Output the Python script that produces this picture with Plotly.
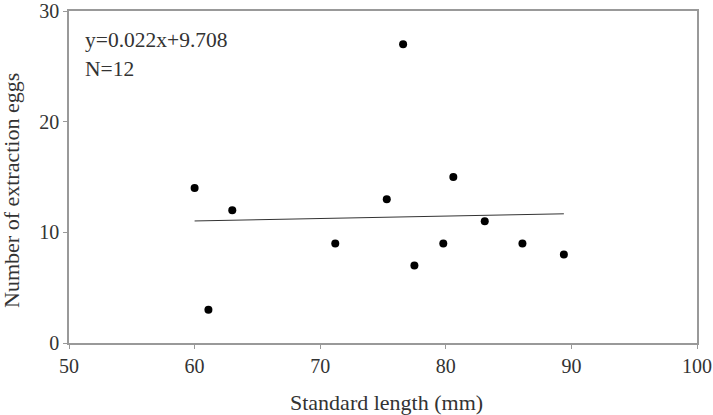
import plotly.graph_objects as go

length = [60.0, 61.1, 63.0, 71.2, 75.3, 76.6, 77.5, 79.8, 80.6, 83.1, 86.1, 89.4]
eggs = [14, 3, 12, 9, 13, 27, 7, 9, 15, 11, 9, 8]
slope = 0.022
intercept = 9.708
x_ticks = [50, 60, 70, 80, 90, 100]
y_ticks = [0, 10, 20, 30]

fit_x = [min(length), max(length)]
fit_y = [slope * v + intercept for v in fit_x]

font = "Liberation Serif, Times New Roman, serif"

fig = go.Figure()
fig.add_trace(go.Scatter(x=fit_x, y=fit_y, mode="lines",
                         line=dict(color="#333333", width=1), showlegend=False))
fig.add_trace(go.Scatter(x=length, y=eggs, mode="markers",
                         marker=dict(color="black", size=8), showlegend=False))

fig.add_annotation(x=0.022, y=0.913, xref="paper", yref="paper", xanchor="left", yanchor="middle",
                   text="y=0.022x+9.708", showarrow=False, font=dict(size=21.5, color="#333333", family=font))
fig.add_annotation(x=0.022, y=0.825, xref="paper", yref="paper", xanchor="left", yanchor="middle",
                   text="N=12", showarrow=False, font=dict(size=21.5, color="#333333", family=font))

# axis titles
fig.add_annotation(x=0.505, y=-0.1807, xref="paper", yref="paper", xanchor="center", yanchor="middle",
                   text="Standard length (mm)", showarrow=False, font=dict(size=22, color="#333333", family=font))
fig.add_annotation(x=-0.0908, y=0.461, xref="paper", yref="paper", xanchor="center", yanchor="middle",
                   textangle=-90, text="Number of extraction eggs", showarrow=False,
                   font=dict(size=22, color="#333333", family=font))

fig.update_layout(
    width=713, height=415,
    margin=dict(l=69, r=16, t=11, b=72, autoexpand=False),
    paper_bgcolor="white", plot_bgcolor="white",
    font=dict(family=font, color="#333333", size=20),
    xaxis=dict(range=[50, 100], tickvals=x_ticks, showgrid=False, zeroline=False,
               showline=True, linecolor="#999999", linewidth=1.5, mirror=True,
               ticks="outside", ticklen=4, tickcolor="#999999", automargin=False),
    yaxis=dict(range=[0, 30], tickvals=y_ticks, showgrid=False, zeroline=False,
               showline=True, linecolor="#999999", linewidth=1.5, mirror=True,
               ticks="outside", ticklen=4, tickcolor="#999999", automargin=False),
)

fig.write_html("out.html")
